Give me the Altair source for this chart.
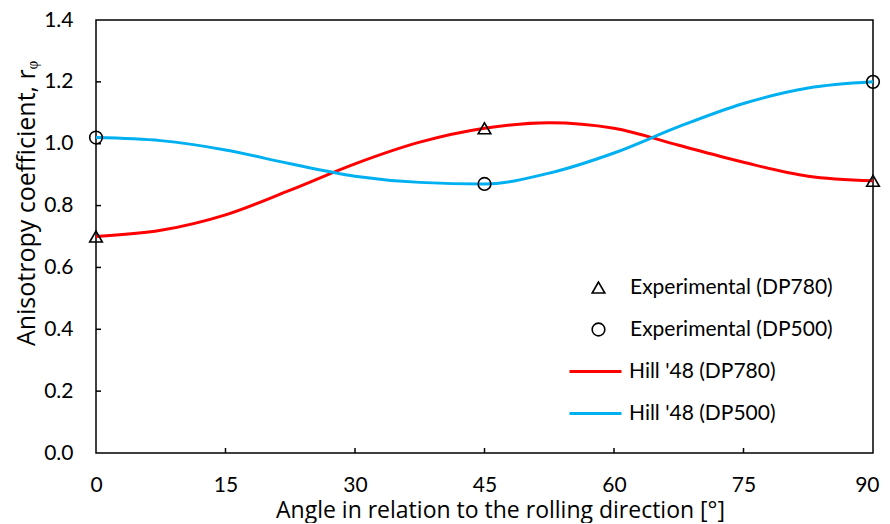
import altair as alt
import pandas as pd

# ---- data ----
curve_angles = [0, 7.5, 15, 22.5, 30, 37.5, 45, 52.5, 60, 67.5, 75, 82.5, 90]
hill_dp780 = [0.700, 0.720, 0.770, 0.850, 0.935, 1.005, 1.050, 1.068, 1.050, 0.995, 0.940, 0.895, 0.880]
hill_dp500 = [1.020, 1.010, 0.980, 0.935, 0.895, 0.875, 0.870, 0.905, 0.970, 1.055, 1.130, 1.180, 1.200]

exp_angles = [0, 45, 90]
exp_dp780 = [0.70, 1.05, 0.88]
exp_dp500 = [1.02, 0.87, 1.20]

x_ticks = [0, 15, 30, 45, 60, 75, 90]
y_ticks = [0.0, 0.2, 0.4, 0.6, 0.8, 1.0, 1.2, 1.4]

line_names = ["Hill '48 (DP780)", "Hill '48 (DP500)"]
point_names = ["Experimental (DP780)", "Experimental (DP500)"]

# ---- tables ----
lines_df = pd.DataFrame(
    [{"angle": a, "r": v, "model": line_names[0]} for a, v in zip(curve_angles, hill_dp780)]
    + [{"angle": a, "r": v, "model": line_names[1]} for a, v in zip(curve_angles, hill_dp500)]
)
points_df = pd.DataFrame(
    [{"angle": a, "r": v, "series": point_names[0]} for a, v in zip(exp_angles, exp_dp780)]
    + [{"angle": a, "r": v, "series": point_names[1]} for a, v in zip(exp_angles, exp_dp500)]
)
xt_df = pd.DataFrame({"v": x_ticks[1:-1]})
yt_df = pd.DataFrame({"v": y_ticks[1:-1]})

FONT = "Lato"
TFONT = "Open Sans"
xscale = alt.Scale(domain=[0, 90], nice=False, zero=False)
yscale = alt.Scale(domain=[0, 1.4], nice=False)

x_axis = alt.Axis(
    values=x_ticks, title="Angle in relation to the rolling direction [°]",
    ticks=False, tickSize=0, labelPadding=21, grid=False, domain=False,
    labelFlush=True, labelFlushOffset=6,
    titleX=404, titleY=64, titleBaseline="alphabetic", titleAlign="center",
    titleFont=TFONT, titleFontSize=23,
)
y_axis = alt.Axis(
    values=y_ticks, format=".1f", title="Anisotropy coefficient, rᵩ",
    ticks=False, tickSize=0, labelPadding=23, grid=False, domain=False, labelFlush=False,
    titleX=-62, titleY=183, titleBaseline="alphabetic", titleAlign="center", titleAngle=270,
    titleFont=TFONT, titleFontSize=25,
)

lines = alt.Chart(lines_df).mark_line(strokeWidth=3, interpolate="monotone").encode(
    x=alt.X("angle:Q", scale=xscale, axis=x_axis),
    y=alt.Y("r:Q", scale=yscale, axis=y_axis),
    color=alt.Color(
        "model:N",
        scale=alt.Scale(domain=line_names, range=["#FF0000", "#00B0F0"]),
        legend=alt.Legend(
            title=None, orient="none", legendX=489, legendY=341,
            symbolType="M-4,0H4", symbolSize=169, symbolStrokeWidth=3,
            labelFont=FONT, labelFontSize=21, labelColor="black", labelLimit=400,
            rowPadding=20, labelOffset=23, padding=0,
        ),
    ),
    detail="model:N",
)

points = alt.Chart(points_df).mark_point(filled=False, color="black", strokeWidth=1.6, size=160, opacity=1).encode(
    x=alt.X("angle:Q", scale=xscale),
    y=alt.Y("r:Q", scale=yscale),
    shape=alt.Shape(
        "series:N",
        scale=alt.Scale(domain=point_names, range=["triangle-up", "circle"]),
        legend=alt.Legend(
            title=None, orient="none", legendX=492, legendY=257,
            symbolSize=160, symbolStrokeWidth=1.6, symbolStrokeColor="black",
            labelFont=FONT, labelFontSize=21, labelColor="black", labelLimit=400,
            rowPadding=20, labelOffset=21, padding=0,
        ),
    ),
)

ytick_marks = alt.Chart(yt_df).mark_rule(color="black", strokeWidth=1.5).encode(
    y=alt.Y("v:Q", scale=yscale), x=alt.value(0), x2=alt.value(5)
)
xtick_marks = alt.Chart(xt_df).mark_rule(color="black", strokeWidth=1.5).encode(
    x=alt.X("v:Q", scale=xscale), y=alt.value(433), y2=alt.value(428)
)

chart = alt.layer(lines, points, ytick_marks, xtick_marks).properties(
    width=777, height=433,
    autosize=alt.AutoSizeParams(type="none"),
    padding={"left": 88, "top": 12, "right": 9, "bottom": 70},
    background="white",
).configure_view(
    stroke="black", strokeWidth=1.5
).configure_axis(
    labelFont=FONT, labelFontSize=21, labelColor="black",
    titleFont=TFONT, titleFontSize=23, titleFontWeight="normal", titleColor="black",
)

chart.save("out.html", embed_options={"renderer": "svg", "actions": False})
